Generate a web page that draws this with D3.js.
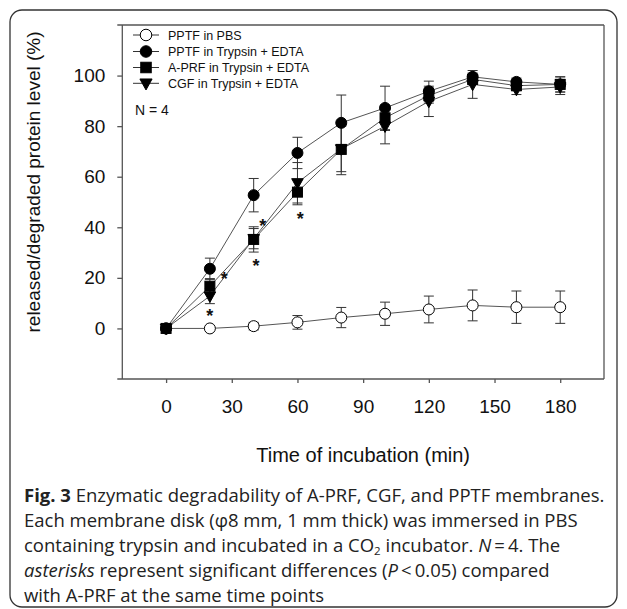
<!DOCTYPE html>
<html>
<head>
<meta charset="utf-8">
<script src="https://cdn.jsdelivr.net/npm/d3@7"></script>
<style>
  html, body { margin: 0; padding: 0; background: #fff; }
  svg { display: block; }
</style>
</head>
<body>
<svg id="chart" width="627" height="609"></svg>
<script>
// ---- data ----
const times = [0, 20, 40, 60, 80, 100, 120, 140, 160, 180];
const seriesNames = ["PPTF in PBS", "PPTF in Trypsin + EDTA", "A-PRF in Trypsin + EDTA", "CGF in Trypsin + EDTA"];
const pbsMean  = [0, 0, 0.9, 2.4, 4.3, 5.8, 7.5, 9.1, 8.4, 8.4];
const pbsErr   = [0.5, 0.5, 1.5, 2.7, 4.0, 4.6, 5.3, 6.1, 6.4, 6.4];
const pptfMean = [0, 23.6, 52.7, 69.4, 81.3, 87.2, 93.8, 99.5, 97.5, 96.5];
const pptfErr  = [0.5, 4.2, 6.6, 6.2, 11, 8.6, 4, 1.5, 1.5, 3];
const aprfMean = [0, 16.7, 35.2, 53.9, 70.8, 83.3, 92.1, 98.5, 96, 96.5];
const aprfErr  = [0.5, 3, 5, 5, 10, 5, 3, 2, 2, 3];
const cgfMean  = [0, 12.8, 35.5, 57.6, 71, 80, 89.8, 96.5, 94.5, 95.5];
const cgfErr   = [0.5, 3, 4, 8, 9, 7, 6, 5.5, 2, 3];
const xTicks = [0, 30, 60, 90, 120, 150, 180];
const yTicks = [0, 20, 40, 60, 80, 100];
const starT = [20, 26.6, 41.1, 44.1, 61.3];
const starV = [6.6, 21.3, 26.6, 42.4, 45.1];
const xLabel = "Time of incubation (min)";
const yLabel = "released/degraded protein level (%)";
const nLabel = "N = 4";

// ---- layout ----
const svg = d3.select("#chart");
const L = 122.3, R = 604, T = 25, B = 379;
const x = d3.scaleLinear().domain([-20, 200]).range([L, R]);
const y = d3.scaleLinear().domain([-20, 120]).range([B, T]);
const axisColor = "#555";
const font = "'Liberation Sans', Arial, sans-serif";

// outer rounded border
svg.append("rect").attr("x", 10).attr("y", 10).attr("width", 607).attr("height", 597)
  .attr("rx", 12).attr("fill", "none").attr("stroke", "#333").attr("stroke-width", 1.3);

// frame
const frame = svg.append("g").attr("stroke", axisColor).attr("stroke-width", 1.3).attr("fill", "none");
frame.append("line").attr("x1", L - 5).attr("x2", R).attr("y1", T).attr("y2", T);
frame.append("line").attr("x1", R).attr("x2", R).attr("y1", T).attr("y2", B);

// axes
const xAxis = d3.axisBottom(x).tickValues(xTicks).tickSize(4).tickPadding(17).tickSizeOuter(0);
const yAxis = d3.axisLeft(y).tickValues(yTicks).tickSize(5).tickPadding(12).tickSizeOuter(0);
const gx = svg.append("g").attr("transform", `translate(0,${B})`).call(xAxis);
const gy = svg.append("g").attr("transform", `translate(${L},0)`).call(yAxis);
[gx, gy].forEach(g => {
  g.select(".domain").remove();
  g.selectAll(".tick line").attr("stroke", axisColor).attr("stroke-width", 1.3);
  g.selectAll(".tick text").attr("font-family", font).attr("font-size", 19).attr("fill", "#111");
});
frame.append("line").attr("x1", L).attr("x2", L).attr("y1", T).attr("y2", B);
frame.append("line").attr("x1", L - 5).attr("x2", R).attr("y1", B).attr("y2", B);

// axis titles
svg.append("text").attr("x", (L + R) / 2).attr("y", 462).attr("text-anchor", "middle")
  .attr("font-family", font).attr("font-size", 20).attr("fill", "#111").text(xLabel);
svg.append("text").attr("transform", `translate(40,182) rotate(-90)`).attr("text-anchor", "middle")
  .attr("font-family", font).attr("font-size", 19).attr("fill", "#111").text(yLabel);

// series
const series = [
  { name: seriesNames[0], mean: pbsMean, err: pbsErr, shape: "circle", fill: "#fff" },
  { name: seriesNames[1], mean: pptfMean, err: pptfErr, shape: "circle", fill: "#000" },
  { name: seriesNames[2], mean: aprfMean, err: aprfErr, shape: "square", fill: "#000" },
  { name: seriesNames[3], mean: cgfMean, err: cgfErr, shape: "triangle", fill: "#000" }
];
const line = d3.line().x(d => x(d.t)).y(d => y(d.v));
const toPts = s => times.map((t, i) => ({ t, v: s.mean[i], e: s.err[i] }));

function drawMarker(g, shape, fill, cx, cy, size) {
  const sz = size || 1;
  if (shape === "circle") {
    g.append("circle").attr("cx", cx).attr("cy", cy).attr("r", 5.5 * sz)
      .attr("fill", fill).attr("stroke", "#000").attr("stroke-width", 1);
  } else if (shape === "square") {
    g.append("rect").attr("x", cx - 5 * sz).attr("y", cy - 5 * sz).attr("width", 10 * sz).attr("height", 10 * sz)
      .attr("fill", fill).attr("stroke", "#000").attr("stroke-width", 1);
  } else {
    const w = 5.8 * sz, h = 5.5 * sz;
    g.append("path").attr("d", `M${cx - w},${cy - h * 0.75}L${cx + w},${cy - h * 0.75}L${cx},${cy + h * 1.15}Z`)
      .attr("fill", fill).attr("stroke", "#000").attr("stroke-width", 1);
  }
}

const plot = svg.append("g");
series.forEach(s => {
  const pts = toPts(s);
  plot.append("path").attr("d", line(pts)).attr("fill", "none").attr("stroke", "#555").attr("stroke-width", 1);
});
series.forEach(s => {
  const pts = toPts(s);
  const eg = plot.append("g").attr("stroke", "#333").attr("stroke-width", 1);
  pts.forEach(p => {
    const cx = x(p.t), y1 = y(p.v + p.e), y2 = y(p.v - p.e);
    eg.append("line").attr("x1", cx).attr("x2", cx).attr("y1", y1).attr("y2", y2);
    eg.append("line").attr("x1", cx - 5).attr("x2", cx + 5).attr("y1", y1).attr("y2", y1);
    eg.append("line").attr("x1", cx - 5).attr("x2", cx + 5).attr("y1", y2).attr("y2", y2);
  });
});
series.forEach(s => {
  const pts = toPts(s);
  const mg = plot.append("g");
  pts.forEach(p => drawMarker(mg, s.shape, s.fill, x(p.t), y(p.v)));
});

// asterisks
starT.forEach((t, i) => {
  svg.append("text").attr("x", x(t)).attr("y", y(starV[i]) + 10.5).attr("text-anchor", "middle")
    .attr("font-family", font).attr("font-size", 18).attr("font-weight", "bold").attr("fill", "#111").text("*");
});

// legend
const legY = [35, 51.5, 67.5, 83.3];
const leg = svg.append("g");
series.forEach((s, i) => {
  leg.append("line").attr("x1", 133).attr("x2", 159).attr("y1", legY[i]).attr("y2", legY[i])
    .attr("stroke", "#333").attr("stroke-width", 1);
  drawMarker(leg, s.shape, s.fill, 146, legY[i], 1.05);
  leg.append("text").attr("x", 168).attr("y", legY[i] + 4.5).attr("font-family", font)
    .attr("font-size", 12.5).attr("fill", "#111").text(s.name);
});
svg.append("text").attr("x", 135).attr("y", 115).attr("font-family", font).attr("font-size", 14)
  .attr("fill", "#111").text(nLabel);

// caption
const cfont = "'Open Sans', 'Noto Sans', sans-serif";
const cap = svg.append("g").attr("font-family", cfont).attr("font-size", 18.5).attr("fill", "#222");
const capX = 24, capY0 = 501.5, capDy = 25.2;
function capLine(i, parts) {
  const t = cap.append("text").attr("x", capX).attr("y", capY0 + i * capDy);
  parts.forEach(p => {
    const ts = t.append("tspan").text(p.t);
    if (p.b) ts.attr("font-weight", "bold");
    if (p.i) ts.attr("font-style", "italic");
    if (p.sub) ts.attr("font-size", 11.5).attr("dy", 3);
    if (p.up) ts.attr("dy", -3);
  });
}
capLine(0, [{ t: "Fig. 3", b: true }, { t: " Enzymatic degradability of A-PRF, CGF, and PPTF membranes." }]);
capLine(1, [{ t: "Each membrane disk (\u03C68 mm, 1 mm thick) was immersed in PBS" }]);
capLine(2, [{ t: "containing trypsin and incubated in a CO" }, { t: "2", sub: true }, { t: " incubator. ", up: true }, { t: "N", i: true }, { t: "\u2009=\u20094. The" }]);
capLine(3, [{ t: "asterisks", i: true }, { t: " represent significant differences (" }, { t: "P", i: true }, { t: "\u2009<\u20090.05) compared" }]);
capLine(4, [{ t: "with A-PRF at the same time points" }]);
</script>
</body>
</html>
